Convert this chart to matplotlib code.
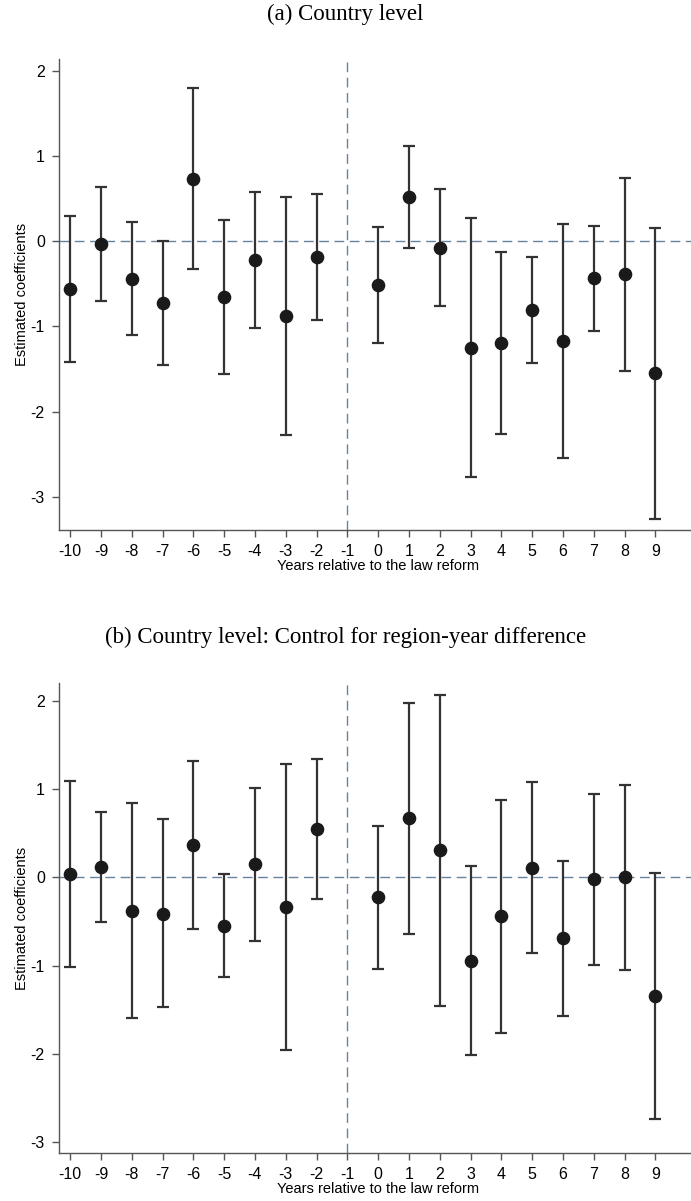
import numpy as np
import matplotlib.pyplot as plt

plt.rcParams['axes.unicode_minus'] = False

# Event-study estimates
years = [-10, -9, -8, -7, -6, -5, -4, -3, -2, 0, 1, 2, 3, 4, 5, 6, 7, 8, 9]
xticks = list(range(-10, 10))

# (a) Country level
coef_a = [-0.565, -0.03, -0.44, -0.73, 0.73, -0.655, -0.22, -0.875, -0.19,
          -0.51, 0.52, -0.075, -1.25, -1.20, -0.81, -1.17, -0.43, -0.39, -1.55]
hi_a = [0.30, 0.64, 0.23, 0.0, 1.80, 0.25, 0.58, 0.52, 0.56,
        0.17, 1.12, 0.61, 0.27, -0.13, -0.19, 0.20, 0.18, 0.74, 0.15]
lo_a = [-1.42, -0.70, -1.10, -1.45, -0.33, -1.56, -1.02, -2.27, -0.93,
        -1.19, -0.075, -0.76, -2.77, -2.26, -1.43, -2.55, -1.05, -1.52, -3.26]

# (b) Country level: control for region-year difference
coef_b = [0.04, 0.115, -0.38, -0.41, 0.37, -0.55, 0.155, -0.33, 0.55,
          -0.225, 0.67, 0.31, -0.945, -0.44, 0.11, -0.69, -0.02, 0.0, -1.35]
hi_b = [1.10, 0.74, 0.85, 0.66, 1.32, 0.04, 1.02, 1.29, 1.34,
        0.585, 1.98, 2.07, 0.13, 0.88, 1.08, 0.19, 0.95, 1.05, 0.05]
lo_b = [-1.02, -0.51, -1.60, -1.47, -0.585, -1.13, -0.72, -1.96, -0.24,
        -1.04, -0.64, -1.46, -2.01, -1.76, -0.86, -1.57, -0.99, -1.055, -2.74]

panels = [
    ("(a) Country level", coef_a, lo_a, hi_a, (-3.39, 2.14)),
    ("(b) Country level: Control for region-year difference", coef_b, lo_b, hi_b, (-3.13, 2.21)),
]

W, H = 691, 1201
fig = plt.figure(figsize=(W / 100, H / 100), dpi=100)
fig.patch.set_facecolor("white")

# pixel boxes: (left, top, right, bottom)
boxes = [(58.7, 59, 697, 530), (58.7, 682.7, 697, 1153.3)]
title_y = [14, 637]

axis_col = "#555555"
bar_col = "#333333"
ref_col = "#6a829b"

for (title, coef, lo, hi, ylim), (l, t, r, b), ty in zip(panels, boxes, title_y):
    ax = fig.add_axes([l / W, 1 - b / H, (r - l) / W, (b - t) / H])
    x = np.array(years)
    coef = np.array(coef)
    yerr = [coef - np.array(lo), np.array(hi) - coef]
    ax.axhline(0, color=ref_col, lw=1.0, dashes=(7, 4), zorder=1)
    ax.axvline(-1, color=ref_col, lw=1.0, dashes=(7, 4), zorder=1)
    ax.errorbar(x, coef, yerr=yerr, fmt="o", color="#1a1a1a", ecolor=bar_col,
                elinewidth=1.6, capsize=4.5, capthick=1.6, markersize=8.8, zorder=3)
    ax.set_xlim(-10.37, 10.35)
    ax.set_ylim(*ylim)
    ax.set_xticks(xticks)
    ax.set_yticks([-3, -2, -1, 0, 1, 2])
    for side in ["top", "right"]:
        ax.spines[side].set_visible(False)
    for side in ["left", "bottom"]:
        ax.spines[side].set_color(axis_col)
        ax.spines[side].set_linewidth(1.0)
    ax.tick_params(direction="out", length=5, width=1.0, color=axis_col,
                   labelsize=11.5, pad=5)
    for lab in ax.get_xticklabels() + ax.get_yticklabels():
        lab.set_family("Liberation Sans")
    ax.set_xlabel("Years relative to the law reform", fontsize=10.5,
                  family="Liberation Sans", labelpad=0)
    ax.set_ylabel("Estimated coefficients", fontsize=10.5,
                  family="Liberation Sans", labelpad=1)
    fig.text(345.5 / W, 1 - ty / H, title, ha="center", va="center",
             fontsize=16.5, family="Liberation Serif")

fig.savefig("out.png", dpi=100)
